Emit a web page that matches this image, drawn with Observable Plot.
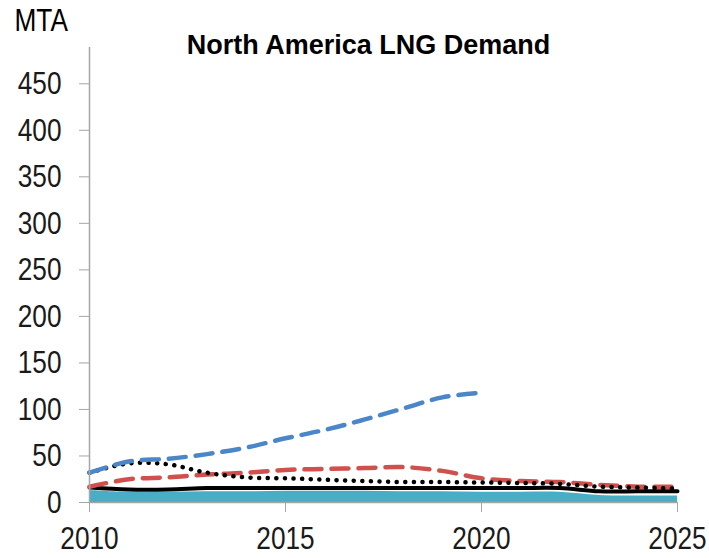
<!DOCTYPE html>
<html>
<head>
<meta charset="utf-8">
<script src="https://cdn.jsdelivr.net/npm/d3@7"></script>
<script src="https://cdn.jsdelivr.net/npm/@observablehq/plot@0.6"></script>
<style>
  html, body { margin: 0; padding: 0; background: #fff; }
  #chart svg { font-family: "Liberation Sans", Arial, sans-serif; }
</style>
</head>
<body>
<div id="chart"></div>
<script>
const title = "North America LNG Demand";
const unitLabel = "MTA";
const years = [2010, 2011, 2012, 2013, 2014, 2015, 2016, 2017, 2018, 2019, 2020, 2021, 2022, 2023, 2024, 2025];
const blueDashed = [32, 44, 47, 52, 59, 69, 78, 89, 101, 113, 118];
const redDashed = [17, 25, 27, 30, 32, 35, 36, 37, 38, 34, 26, 23, 22, 19, 17, 17];
const blackDotted = [32, 42, 41, 32, 27, 26, 24.5, 23, 22, 22, 21.5, 21, 20, 17, 16, 15];
const blackSolid = [16, 14, 14, 15.5, 15.5, 15.5, 15.5, 15.5, 15.5, 15.5, 15.5, 15.5, 15.5, 12, 12, 12];
const tealArea = [13, 11, 11, 11.5, 11.5, 12, 12, 12, 11.5, 11.5, 11, 11, 11, 7.5, 7, 7];
const yTicks = [0, 50, 100, 150, 200, 250, 300, 350, 400, 450];
const xTicks = [2010, 2015, 2020, 2025];

const toRows = (vals) => vals.map((v, i) => ({year: years[i], value: v}));

const chart = Plot.plot({
  width: 709,
  height: 558,
  marginLeft: 89,
  marginRight: 32,
  marginTop: 47,
  marginBottom: 56,
  style: {fontSize: "32px", color: "#1a1a1a", background: "#fff"},
  x: {domain: [2010, 2025], label: null},
  y: {domain: [0, 489], label: null},
  marks: [
    Plot.areaY(toRows(tealArea), {x: "year", y: "value", fill: "#4bacc6", curve: "catmull-rom"}),
    Plot.lineY(toRows(blackSolid), {x: "year", y: "value", stroke: "#000", strokeWidth: 4, curve: "catmull-rom"}),
    Plot.lineY(toRows(redDashed), {x: "year", y: "value", stroke: "#d0504d", strokeWidth: 4.5, strokeDasharray: "17 10", curve: "catmull-rom"}),
    Plot.lineY(toRows(blackDotted), {x: "year", y: "value", stroke: "#000", strokeWidth: 4.5, strokeDasharray: "0.1 8.5", strokeLinecap: "round", curve: "catmull-rom"}),
    Plot.lineY(toRows(blueDashed), {x: "year", y: "value", stroke: "#4a86c8", strokeWidth: 4.5, strokeDasharray: "17 10", curve: "catmull-rom"}),
    Plot.ruleX([2010], {stroke: "#a6a6a6", strokeWidth: 1.5}),
    Plot.ruleY([0], {stroke: "#a6a6a6", strokeWidth: 1.5}),
    Plot.axisY({ticks: yTicks, tickSize: 10, tickPadding: 18, stroke: "#a6a6a6", fill: "#1a1a1a", label: null}),
    Plot.axisX({ticks: xTicks, tickFormat: d => String(d), tickSize: 10, tickPadding: 14, stroke: "#a6a6a6", fill: "#1a1a1a", label: null}),
    Plot.text([unitLabel], {frameAnchor: "top-left", dx: -75, dy: -27, lineAnchor: "middle", text: d => d, textAnchor: "start", fontSize: 32, fill: "#000"}),
    Plot.text([title], {frameAnchor: "top", dx: -15, dy: -2, lineAnchor: "middle", text: d => d, fontSize: 27, fontWeight: "bold", fill: "#000", className: "chart-title"})
  ]
});

// Calibri-like narrow proportions for axis/unit text: compress horizontally around the anchor
const sx = 0.82;
d3.select(chart).selectAll("text").filter(function() {
  return !this.closest(".chart-title");
}).each(function() {
  const t = d3.select(this);
  const tr = t.attr("transform");
  if (tr) {
    t.attr("transform", tr + ` scale(${sx},1)`);
  } else {
    const x = +(t.attr("x") || 0);
    t.attr("transform", `translate(${x * (1 - sx)},0) scale(${sx},1)`);
  }
});
document.getElementById("chart").appendChild(chart);
</script>
</body>
</html>
